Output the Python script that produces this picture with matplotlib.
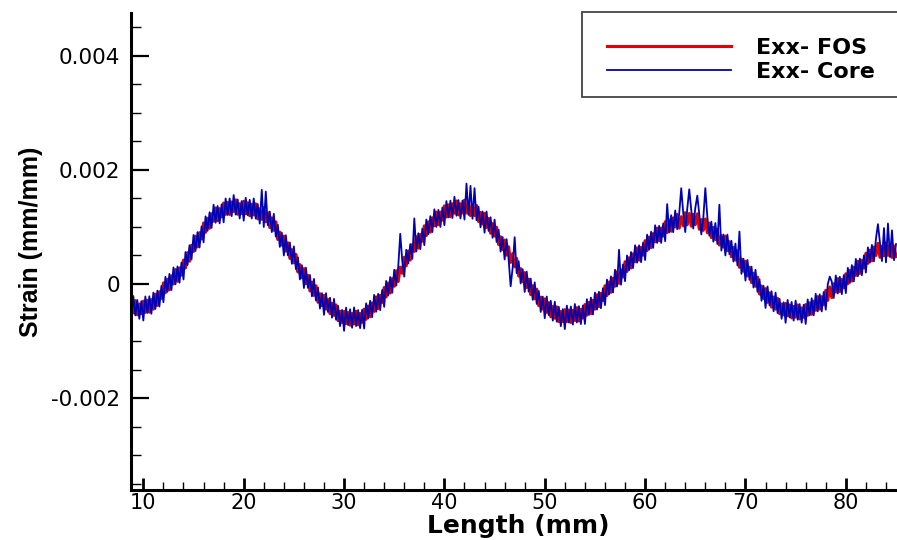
import numpy as np
import matplotlib
matplotlib.use('Agg')
import matplotlib.pyplot as plt
from matplotlib.ticker import MultipleLocator, FuncFormatter
from matplotlib.patches import Rectangle

# strain samples in microstrain, one row per mm (x from 8.6 to 85.0, step 0.2 mm)
fos_ue = [
    -540, -325,
    -500, -290, -540, -350, -520,
    -300, -498, -286, -494, -272,
    -440, -178, -376, -134, -252,
    20, -154, 82, -102, 144,
    0, 254, 48, 282, 156,
    420, 280, 550, 400, 680,
    570, 840, 650, 900, 790,
    1070, 906, 1152, 978, 1234,
    1100, 1334, 1108, 1322, 1176,
    1420, 1220, 1430, 1220, 1440,
    1270, 1476, 1222, 1408, 1234,
    1450, 1232, 1424, 1196, 1398,
    1210, 1406, 1142, 1318, 1134,
    1340, 1090, 1250, 990, 1160,
    940, 1090, 780, 910, 680,
    840, 576, 722, 448, 604,
    370, 520, 210, 340, 110,
    270, 6, 152, -122, 34,
    -200, -30, -320, -170, -380,
    -200, -440, -270, -520, -340,
    -550, -366, -642, -478, -674,
    -480, -694, -498, -722, -516,
    -700, -478, -716, -514, -672,
    -440, -618, -386, -574, -332,
    -480, -226, -432, -198, -324,
    -60, -226, 18, -158, 96,
    -40, 232, 44, 296, 188,
    470, 320, 580, 420, 690,
    570, 830, 630, 870, 750,
    1020, 850, 1090, 910, 1160,
    1020, 1260, 1040, 1260, 1120,
    1370, 1174, 1388, 1182, 1406,
    1240, 1456, 1212, 1408, 1244,
    1470, 1246, 1432, 1198, 1394,
    1200, 1378, 1096, 1254, 1052,
    1240, 990, 1150, 890, 1060,
    840, 996, 692, 828, 604,
    770, 506, 652, 378, 534,
    300, 450, 140, 270, 40,
    200, -62, 86, -186, -28,
    -260, -90, -380, -230, -440,
    -260, -498, -326, -574, -392,
    -600, -400, -660, -480, -660,
    -450, -658, -456, -674, -462,
    -640, -414, -648, -442, -596,
    -360, -546, -322, -518, -284,
    -440, -188, -396, -164, -292,
    -30, -202, 36, -146, 102,
    -40, 216, 12, 248, 124,
    390, 220, 460, 280, 530,
    390, 634, 418, 642, 506,
    760, 586, 822, 638, 884,
    740, 980, 760, 980, 840,
    1090, 902, 1124, 926, 1158,
    1000, 1220, 980, 1180, 1020,
    1250, 1038, 1236, 1014, 1222,
    1040, 1230, 960, 1130, 940,
    1140, 898, 1066, 814, 992,
    780, 962, 684, 846, 648,
    840, 586, 742, 478, 644,
    420, 586, 292, 438, 224,
    400, 142, 294, 26, 188,
    -40, 122, -176, -34, -252,
    -80, -322, -154, -406, -228,
    -440, -250, -520, -350, -540,
    -340, -558, -366, -594, -392,
    -580, -366, -612, -418, -584,
    -360, -550, -330, -530, -300,
    -460, -220, -440, -220, -360,
    -110, -286, -52, -238, 6,
    -140, 94, -132, 82, -64,
    180, 4, 238, 52, 296,
    150, 398, 186, 414, 282,
    540, 362, 594, 406, 648,
    500, 714, 468, 662, 496,
    720, 502, 694, 466, 668,
    480,
]

core_ue = [
    -260, -575,
    -210, -550, -280, -610, -300,
    -640, -218, -506, -214, -522,
    -150, -438, -116, -394, -32,
    -320, 126, -138, 178, -106,
    290, -6, 308, 22, 376,
    80, 560, 330, 680, 430,
    860, 580, 910, 640, 1010,
    730, 1186, 932, 1258, 984,
    1390, 1074, 1368, 1062, 1396,
    1080, 1500, 1210, 1500, 1190,
    1560, 1216, 1482, 1148, 1454,
    1110, 1512, 1204, 1476, 1148,
    1500, 1146, 1402, 1058, 1650,
    1000, 1620, 1030, 1270, 910,
    1230, 830, 1040, 650, 900,
    500, 856, 502, 728, 354,
    660, 260, 470, 80, 330,
    -70, 286, -68, 158, -216,
    90, -290, -60, -430, -160,
    -540, -160, -490, -240, -590,
    -260, -626, -382, -738, -454,
    -820, -414, -718, -442, -766,
    -410, -738, -456, -774, -452,
    -780, -338, -606, -294, -582,
    -190, -486, -172, -458, -104,
    -400, 54, -202, 122, -154,
    250, -28, 304, 880, 408,
    130, 600, 360, 700, 440,
    1150, 570, 890, 610, 970,
    680, 1130, 870, 1190, 910,
    1310, 1000, 1300, 1000, 1340,
    1030, 1454, 1168, 1462, 1156,
    1530, 1196, 1472, 1148, 1464,
    1130, 1760, 1212, 1720, 1144,
    1680, 1118, 1356, 994, 1272,
    900, 1270, 930, 1170, 810,
    1130, 736, 952, 568, 824,
    430, 786, 432, -40, 284,
    820, 190, 400, 10, 260,
    -140, 218, -134, 94, -278,
    30, -350, -120, -490, -220,
    -600, -218, -546, -294, -642,
    -310, -660, -400, -740, -440,
    -790, -378, -676, -394, -712,
    -350, -674, -388, -702, -376,
    -700, -266, -542, -238, -534,
    -150, -448, -136, -424, -72,
    -370, 78, -184, 134, -148,
    250, -44, 600, -12, 344,
    50, 500, 240, 560, 280,
    680, 374, 678, 382, 726,
    420, 866, 602, 918, 634,
    1030, 720, 1020, 720, 1060,
    750, 1400, 904, 1206, 908,
    1290, 960, 1240, 1680, 1240,
    910, 1318, 1660, 1294, 972,
    1330, 1550, 1220, 870, 1160,
    1680, 1178, 846, 1094, 742,
    1070, 702, 1390, 586, 868,
    500, 866, 522, 758, 394,
    710, 326, 920, 178, 444,
    60, 422, 74, 306, -62,
    250, -138, 84, -294, -32,
    -420, -42, -374, -126, -478,
    -150, -510, -260, -610, -320,
    -680, -278, -586, -314, -642,
    -290, -626, -352, -678, -364,
    -700, -270, -550, -250, -550,
    -170, -480, -180, -480, -140,
    -450, -6, 130, 42, -244,
    150, -166, 128, -178, 156,
    -160, 284, 18, 332, 46,
    440, 138, 446, 154, 502,
    200, 642, 374, 686, 398,
    790, 1050, 728, 402, 980,
    380, 1060, 474, 940, 418,
    700,
]

x_start, x_end = 8.6, 85.0
x_mm = np.linspace(x_start, x_end, len(fos_ue))
fos = np.array(fos_ue) * 1e-6
core = np.array(core_ue) * 1e-6

plt.rcParams['axes.unicode_minus'] = False
plt.rcParams['font.family'] = 'DejaVu Sans'

fig = plt.figure(figsize=(8.97, 5.4), dpi=100)
W, H = 897, 540
ax = fig.add_axes([131 / W, 1 - 490 / H, 1 - 131 / W, (490 - 13) / H])

ax.plot(x_mm, fos, color='#e00000', lw=2.2, label='Exx- FOS')
ax.plot(x_mm, core, color='#0000b4', lw=1.3, label='Exx- Core')

ax.set_xlim(8.77, 85.1)
ax.set_ylim(-0.00361, 0.00475)

for s in ['top', 'right']:
    ax.spines[s].set_visible(False)
for s in ['left', 'bottom']:
    ax.spines[s].set_linewidth(2.2)

ax.xaxis.set_major_locator(MultipleLocator(10))
ax.xaxis.set_minor_locator(MultipleLocator(2))
ax.yaxis.set_major_locator(MultipleLocator(0.002))
ax.yaxis.set_minor_locator(MultipleLocator(0.0005))
ax.yaxis.set_major_formatter(FuncFormatter(lambda v, p: '0' if abs(v) < 1e-9 else '%.3f' % v))

ax.tick_params(axis='y', which='major', direction='in', length=13, width=1.6, labelsize=15.5, pad=8)
ax.tick_params(axis='y', which='minor', direction='in', length=7.5, width=1.0)
ax.tick_params(axis='x', which='major', direction='in', length=9, width=2.0, labelsize=15, pad=2)
ax.tick_params(axis='x', which='minor', direction='in', length=5.5, width=1.0)

ax.set_xlabel('Length (mm)', fontsize=18, fontweight='bold')
ax.xaxis.set_label_coords((518 - 131) / (W - 131), -(514 - 490) / 477)
ax.set_ylabel('Strain (mm/mm)', fontsize=18, fontweight='bold', family='Liberation Sans')
ax.yaxis.set_label_coords((43 - 131) / (W - 131), (490 - 242) / 477)

# legend box (runs past the right edge like the original)
box = Rectangle((581.5 / W, 1 - 96.7 / H), 340 / W, 84.4 / H,
                transform=fig.transFigure, facecolor='white',
                edgecolor='#444444', lw=1.3, zorder=5, clip_on=False)
ax.add_patch(box)
leg = ax.legend(loc='upper left', bbox_to_anchor=(607 / W, 1 - 38 / H),
                bbox_transform=fig.transFigure, frameon=False,
                prop={'weight': 'bold', 'size': 16}, handlelength=5.6,
                handletextpad=1.1, labelspacing=0.16, borderpad=0,
                borderaxespad=0)
leg.set_zorder(6)

fig.savefig('out.png', dpi=100)
